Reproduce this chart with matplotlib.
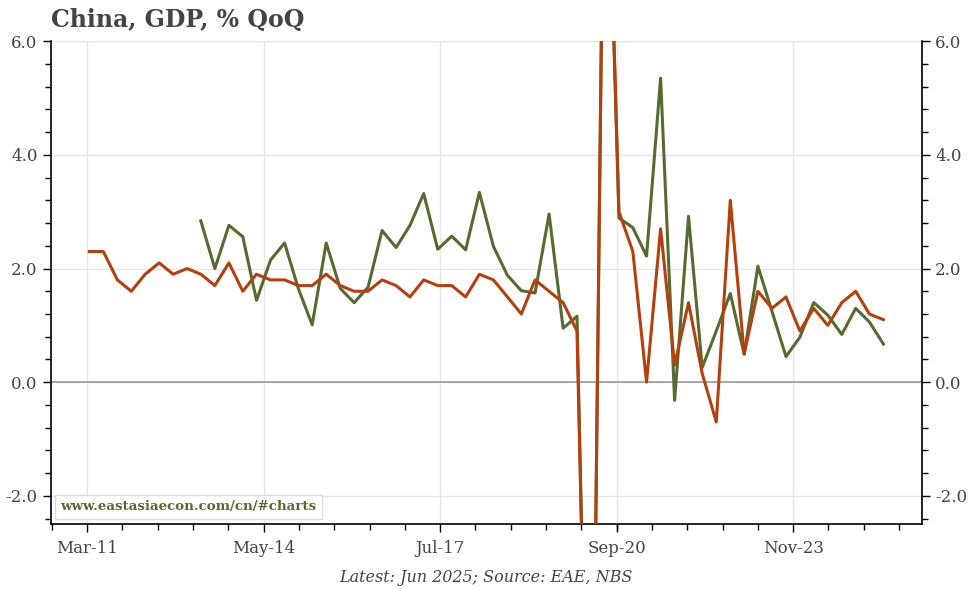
import numpy as np
import pandas as pd
import matplotlib
matplotlib.use("Agg")
import matplotlib.pyplot as plt
import matplotlib.dates as mdates
from matplotlib.ticker import FixedLocator, MultipleLocator, FormatStrFormatter

# quarterly GDP growth, % QoQ, 2011Q1 .. 2025Q2
nbs_qoq = [2.3, 2.3, 1.8, 1.6, 1.9, 2.1, 1.9, 2.0,
           1.9, 1.7, 2.1, 1.6, 1.9, 1.8, 1.8, 1.7,
           1.7, 1.9, 1.7, 1.6, 1.6, 1.8, 1.7, 1.5,
           1.8, 1.7, 1.7, 1.5, 1.9, 1.8, 1.5, 1.2,
           1.8, 1.6, 1.4, 0.9, -10.0, 11.5, 3.0, 2.3,
           0.0, 2.7, 0.3, 1.4, 0.15, -0.7, 3.2, 0.5,
           1.6, 1.3, 1.5, 0.9, 1.3, 1.0, 1.4, 1.6,
           1.2, 1.1]

eae_qoq = [np.nan] * 8 + [
           2.84, 2.0, 2.76, 2.56, 1.44, 2.15, 2.45, 1.64,
           1.01, 2.45, 1.65, 1.40, 1.67, 2.67, 2.37, 2.76,
           3.32, 2.34, 2.57, 2.33, 3.34, 2.39, 1.88, 1.61,
           1.57, 2.96, 0.95, 1.16, -10.0, 11.5, 2.89, 2.72,
           2.22, 5.35, -0.32, 2.92, 0.26, 0.9, 1.56, 0.49,
           2.04, 1.25, 0.45, 0.79, 1.40, 1.18, 0.84, 1.30,
           1.06, 0.67]

dates = pd.date_range("2011-03-01", periods=len(nbs_qoq), freq="3MS") + pd.Timedelta(days=14)

tick_dates = ["2011-03-01", "2014-05-01", "2017-07-01", "2020-09-01", "2023-11-01"]
tick_labels = ["Mar-11", "May-14", "Jul-17", "Sep-20", "Nov-23"]

red = "#b5400e"
green = "#556b2f"
text_col = "#444444"

plt.rcParams["font.family"] = ["DejaVu Serif"]

fig = plt.figure(figsize=(9.72, 5.89), dpi=100)
ax = fig.add_axes([0.0522, 0.110, 0.8964, 0.8199])

ax.axhline(0, color="#999999", lw=1.2, zorder=1)
ax.plot(dates, eae_qoq, color=green, lw=2.2, zorder=3)
ax.plot(dates, nbs_qoq, color=red, lw=2.2, zorder=4)

x0 = mdates.date2num(pd.Timestamp("2010-07-05"))
x1 = mdates.date2num(pd.Timestamp("2026-02-23"))
ax.set_xlim(x0, x1)
ax.set_ylim(-2.5, 6.0)

# x ticks: labelled every 38 months, minor ticks at fifths of that
majors = [mdates.date2num(pd.Timestamp(d)) for d in tick_dates]
step = (majors[-1] - majors[0]) / 20
minors = [majors[0] + step * k for k in range(-3, 30)]
minors = [m for m in minors if x0 <= m <= x1]
ax.xaxis.set_major_locator(FixedLocator(majors))
ax.xaxis.set_minor_locator(FixedLocator(minors))
ax.set_xticklabels(tick_labels)

# y ticks
ax.yaxis.set_major_locator(MultipleLocator(2.0))
ax.yaxis.set_minor_locator(MultipleLocator(0.4))
ax.yaxis.set_major_formatter(FormatStrFormatter("%.1f"))

ax.tick_params(axis="both", which="major", length=6, width=1, colors="black",
               labelcolor=text_col, labelsize=12)
ax.tick_params(axis="both", which="minor", length=4, width=1, colors="black")
ax.tick_params(axis="y", which="both", right=True, labelright=True)
ax.tick_params(axis="x", which="major", pad=5.5)

ax.grid(True, which="major", color="#e6e6e6", lw=1, zorder=0)
ax.set_axisbelow(True)

for s in ["left", "right", "bottom"]:
    ax.spines[s].set_color("black")
    ax.spines[s].set_linewidth(1.2)
ax.spines["top"].set_visible(False)

fig.text(0.052, 0.966, "China, GDP, % QoQ", fontsize=17, fontweight="bold",
         color=text_col, ha="left", va="center")
fig.text(0.5, 0.02, "Latest: Jun 2025; Source: EAE, NBS", fontsize=11.5,
         style="italic", color=text_col, ha="center", va="center")

ax.text(0.011, 0.036, "www.eastasiaecon.com/cn/#charts", transform=ax.transAxes,
        fontsize=9.6, fontweight="bold", color=green, ha="left", va="center",
        zorder=6,
        bbox=dict(boxstyle="square,pad=0.4", fc="white", ec="#dddddd", lw=1))

fig.savefig("out.png", dpi=100)
